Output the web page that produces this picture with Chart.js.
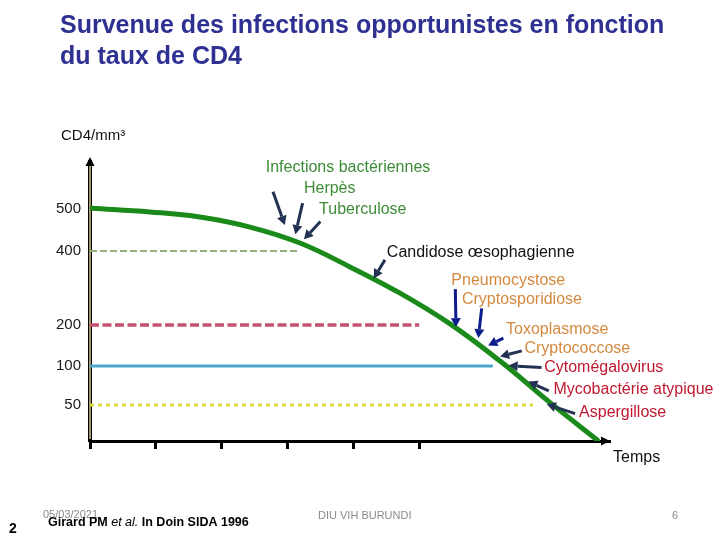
<!DOCTYPE html>
<html lang="fr">
<head>
<meta charset="utf-8">
<title>Survenue des infections opportunistes en fonction du taux de CD4</title>
<script src="https://cdn.jsdelivr.net/npm/chart.js@4.4.1/dist/chart.umd.min.js"></script>
<style>
  html, body { margin: 0; padding: 0; background: #fff; }
  #wrap { width: 720px; height: 540px; }
</style>
</head>
<body>
<div id="wrap"><canvas id="chart" width="720" height="540"></canvas></div>
<script>
// ─── DONNÉES ─────────────────────────────────────────────────────────────────

const timeTicks = [0, 1, 2, 3, 4, 5];
const cd4Ticks  = [500, 400, 200, 100, 50];

// courbe des CD4 au cours du temps
const curveTime = [0.03, 0.91, 1.67, 2.43, 3.19, 3.95, 4.71, 5.47, 6.23, 6.99, 7.71];
const curveCd4  = [502, 493, 481, 457, 419, 357, 286, 203, 112, 53, 1];

// seuils horizontaux
const seuilCd4 = [400, 200, 100, 50];
const seuilFin = [3.19, 5.0, 6.12, 6.73];

// infections opportunistes et leurs flèches (temps, CD4)
const infections = [
  'Infections bactériennes', 'Herpès', 'Tuberculose', 'Candidose œsophagienne',
  'Pneumocystose', 'Cryptosporidiose', 'Toxoplasmose', 'Cryptococcose',
  'Cytomégalovirus', 'Mycobactérie atypique', 'Aspergillose'
];
const labelTime    = [2.67, 3.25, 3.48, 4.51, 5.49, 5.65, 6.32, 6.60, 6.90, 7.04, 7.43];
const labelCd4     = [598, 548, 498, 395, 320, 270, 190, 143, 98, 70, 40];
const flecheDeTime = [2.78, 3.23, 3.50, 4.48, 5.55, 5.95, 6.28, 6.56, 6.86, 6.97, 7.37];
const flecheDeCd4  = [541, 514, 470, 376, 297, 245, 168, 137, 98, 68, 38];
const flecheATime  = [2.96, 3.12, 3.25, 4.31, 5.56, 5.90, 6.05, 6.23, 6.36, 6.66, 6.94];
const flecheACd4   = [462, 440, 428, 326, 195, 168, 150, 123, 101, 80, 51];

// ─── STYLES ──────────────────────────────────────────────────────────────────

const GREEN  = '#3d8b37';
const ORANGE = '#d4893e';
const RED    = '#c0182f';
const labelColors = [GREEN, GREEN, GREEN, '#111', ORANGE, ORANGE, ORANGE, ORANGE, RED, RED, RED];
const arrowColors = ['#233152', '#233152', '#233152', '#233152', '#0c1c8c', '#0c1c8c', '#0c1c8c',
                     '#233152', '#233152', '#233152', '#233152'];

const seuilStyles = [
  { color: '#93b07f', width: 2,   dash: [7, 3] },
  { color: '#c25470', width: 3.5, dash: [9, 3.5] },
  { color: '#4aa8cc', width: 3,   dash: [] },
  { color: '#dedc3a', width: 3,   dash: [4, 4] }
];

const FONT = "'Liberation Sans', Arial, sans-serif";

// axe vertical non linéaire (schéma) : fraction de hauteur pour chaque palier
const axeStops = [0, 50, 100, 200, 400, 500, 612];
const axeFrac  = [0, 36, 75, 116, 190, 232, 279].map(v => v / 279);

function cd4ToDecimal(v) {
  for (let i = 1; i < axeStops.length; i++) {
    if (v <= axeStops[i] || i === axeStops.length - 1) {
      const f = (v - axeStops[i - 1]) / (axeStops[i] - axeStops[i - 1]);
      return axeFrac[i - 1] + f * (axeFrac[i] - axeFrac[i - 1]);
    }
  }
  return 0;
}

function decimalToCd4(d) {
  for (let i = 1; i < axeFrac.length; i++) {
    if (d <= axeFrac[i] || i === axeFrac.length - 1) {
      const f = (d - axeFrac[i - 1]) / (axeFrac[i] - axeFrac[i - 1]);
      return axeStops[i - 1] + f * (axeStops[i] - axeStops[i - 1]);
    }
  }
  return 0;
}

class EchelleCd4 extends Chart.LinearScale {
  getPixelForValue(value) { return this.getPixelForDecimal(cd4ToDecimal(value)); }
  getValueForPixel(pixel) { return decimalToCd4(this.getDecimalForPixel(pixel)); }
}
EchelleCd4.id = 'cd4';
EchelleCd4.defaults = Chart.LinearScale.defaults;
Chart.register(EchelleCd4);

// ─── DÉCOR (titre, flèches, textes) ──────────────────────────────────────────

function arrow(ctx, x1, y1, x2, y2, color, width, head, half) {
  const a = Math.atan2(y2 - y1, x2 - x1);
  const bx = x2 - Math.cos(a) * head, by = y2 - Math.sin(a) * head;
  ctx.strokeStyle = color;
  ctx.fillStyle = color;
  ctx.lineWidth = width;
  ctx.beginPath();
  ctx.moveTo(x1, y1);
  ctx.lineTo(bx, by);
  ctx.stroke();
  ctx.beginPath();
  ctx.moveTo(x2, y2);
  ctx.lineTo(bx + Math.sin(a) * half, by - Math.cos(a) * half);
  ctx.lineTo(bx - Math.sin(a) * half, by + Math.cos(a) * half);
  ctx.closePath();
  ctx.fill();
}

const decor = {
  id: 'decor',
  beforeDraw(chart) {
    const ctx = chart.ctx;
    ctx.save();
    ctx.fillStyle = '#fff';
    ctx.fillRect(0, 0, chart.width, chart.height);
    ctx.restore();
  },
  beforeDatasetsDraw(chart) {
    // âme claire de l'axe vertical
    const { ctx, chartArea: ca } = chart;
    ctx.save();
    ctx.strokeStyle = '#dcc88e';
    ctx.lineWidth = 1.5;
    ctx.beginPath();
    ctx.moveTo(ca.left, ca.bottom - 2);
    ctx.lineTo(ca.left, ca.top + 4);
    ctx.stroke();
    ctx.restore();
  },
  afterDraw(chart) {
    const { ctx, chartArea: ca, scales: { x, y } } = chart;
    ctx.save();

    // pointes des axes
    ctx.fillStyle = '#000';
    ctx.beginPath();
    ctx.moveTo(ca.left, ca.top - 5);
    ctx.lineTo(ca.left - 4.5, ca.top + 4);
    ctx.lineTo(ca.left + 4.5, ca.top + 4);
    ctx.closePath();
    ctx.fill();
    ctx.beginPath();
    ctx.moveTo(ca.right, ca.bottom);
    ctx.lineTo(ca.right - 9, ca.bottom - 4.5);
    ctx.lineTo(ca.right - 9, ca.bottom + 4.5);
    ctx.closePath();
    ctx.fill();

    // flèches et noms des infections
    infections.forEach((name, i) => {
      arrow(ctx,
        x.getPixelForValue(flecheDeTime[i]), y.getPixelForValue(flecheDeCd4[i]),
        x.getPixelForValue(flecheATime[i]), y.getPixelForValue(flecheACd4[i]),
        arrowColors[i], 3, 9, 5);
    });
    ctx.font = '16px ' + FONT;
    ctx.textBaseline = 'middle';
    ctx.textAlign = 'left';
    infections.forEach((name, i) => {
      ctx.fillStyle = labelColors[i];
      ctx.fillText(name, x.getPixelForValue(labelTime[i]), y.getPixelForValue(labelCd4[i]));
    });

    // titres des axes
    ctx.fillStyle = '#111';
    ctx.font = '15px ' + FONT;
    ctx.fillText('CD4/mm³', ca.left - 29, ca.top - 26);
    ctx.font = '16px ' + FONT;
    ctx.fillText('Temps', ca.right + 3, ca.bottom + 17);

    // titre
    ctx.textBaseline = 'alphabetic';
    ctx.fillStyle = '#2e3192';
    ctx.font = 'bold 25px ' + FONT;
    ctx.fillText('Survenue des infections opportunistes en fonction', 60, 33);
    ctx.fillText('du taux de CD4', 60, 64);

    // pied de page
    ctx.fillStyle = '#8a8a8a';
    ctx.font = '11px ' + FONT;
    ctx.fillText('05/03/2021', 43, 518);
    ctx.fillText('DIU VIH BURUNDI', 318, 519);
    ctx.fillText('6', 672, 519);

    ctx.fillStyle = '#000';
    ctx.font = "bold 14px " + FONT;
    ctx.fillText('2', 9, 533);

    let cx = 48;
    const narrow = "'Liberation Sans Narrow', 'Liberation Sans', Arial, sans-serif";
    [['Girard PM ', 'bold 12.5px '], ['et al.', 'italic 12.5px '], [' In Doin SIDA 1996', 'bold 12.5px ']]
      .forEach(([t, f]) => {
        ctx.font = f + narrow;
        ctx.fillText(t, cx, 526);
        cx += ctx.measureText(t).width;
      });

    ctx.restore();
  }
};

// ─── GRAPHIQUE ───────────────────────────────────────────────────────────────

const datasets = [{
  data: curveTime.map((t, i) => ({ x: t, y: curveCd4[i] })),
  borderColor: '#1a8a1a',
  borderWidth: 5,
  pointRadius: 0,
  tension: 0.4,
  borderCapStyle: 'round'
}].concat(seuilCd4.map((v, i) => ({
  data: [{ x: 0, y: v }, { x: seuilFin[i], y: v }],
  borderColor: seuilStyles[i].color,
  borderWidth: seuilStyles[i].width,
  borderDash: seuilStyles[i].dash,
  pointRadius: 0,
  tension: 0
})));

new Chart(document.getElementById('chart'), {
  type: 'line',
  data: { datasets },
  options: {
    responsive: false,
    animation: false,
    events: [],
    layout: { padding: { left: 0, right: 110, top: 162, bottom: 79 } },
    plugins: { legend: { display: false }, tooltip: { enabled: false } },
    scales: {
      x: {
        type: 'linear',
        min: 0,
        max: 7.9,
        afterBuildTicks: s => { s.ticks = timeTicks.map(v => ({ value: v })); },
        afterFit: s => { s.height = 20; },
        ticks: { display: false },
        grid: { drawOnChartArea: false, drawTicks: true, tickLength: 8, tickWidth: 3, tickColor: '#000' },
        border: { display: true, color: '#000', width: 3 }
      },
      y: {
        type: 'cd4',
        min: 0,
        max: 612,
        afterBuildTicks: s => { s.ticks = cd4Ticks.map(v => ({ value: v })); },
        afterFit: s => { s.width = 90; },
        ticks: { color: '#1a1a1a', font: { family: FONT, size: 15 }, padding: 9, callback: v => String(v) },
        grid: { display: false, drawTicks: false },
        border: { display: true, color: '#000', width: 4 }
      }
    }
  },
  plugins: [decor]
});
</script>
</body>
</html>
